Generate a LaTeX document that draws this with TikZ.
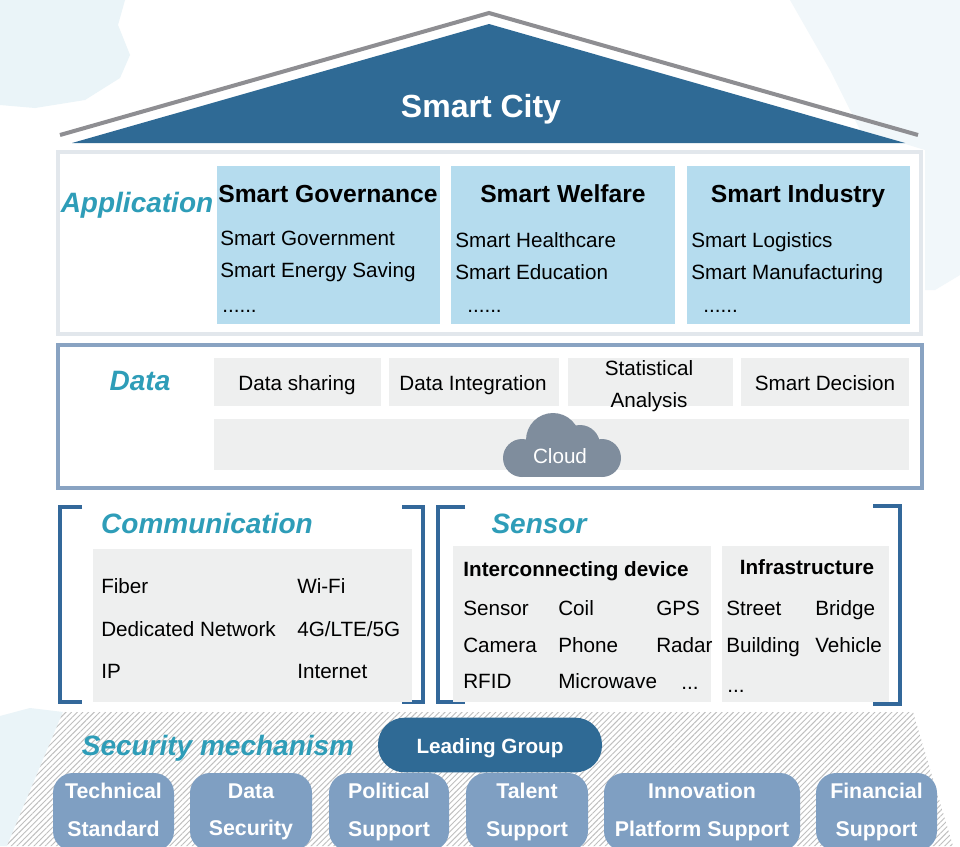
\documentclass[tikz,border=0pt]{standalone}
\usepackage{fontspec}
\setmainfont{Liberation Sans}
\usetikzlibrary{patterns.meta}

\definecolor{roofblue}{HTML}{2F6A95}
\definecolor{roofgrey}{HTML}{8E8E92}
\definecolor{labelcyan}{HTML}{2E9DB8}
\definecolor{appblue}{HTML}{B5DCEE}
\definecolor{framegrey}{HTML}{E2E7EC}
\definecolor{frameblue}{HTML}{89A3C2}
\definecolor{boxgrey}{HTML}{EEEFEF}
\definecolor{bracketblue}{HTML}{33689A}
\definecolor{pillblue}{HTML}{7F9FC2}
\definecolor{cloudgrey}{HTML}{7F8D9D}
\definecolor{skyblue}{HTML}{EAF4F8}
\definecolor{skypale}{HTML}{F1F7FA}

\newcommand{\twolines}[2]{\vphantom{Ty}#1\\\vphantom{Ty}#2}

\tikzset{
  layerlabel/.style={font=\fontsize{21}{24}\selectfont\bfseries\itshape,text=labelcyan,anchor=base,inner sep=0pt},
  headtext/.style={font=\fontsize{18.5}{22}\selectfont\bfseries,anchor=base,inner sep=0pt},
  subhead/.style={font=\fontsize{15.5}{18}\selectfont\bfseries,anchor=base,inner sep=0pt},
  itemtext/.style={font=\fontsize{15.5}{18}\selectfont,anchor=base west,inner sep=0pt},
  datatext/.style={font=\fontsize{15.5}{24}\selectfont,align=center,anchor=base,inner sep=0pt},
  pillbox/.style={fill=pillblue,rounded corners=15pt,text=white,font=\fontsize{16}{28}\selectfont\bfseries,align=center,inner sep=0pt,minimum height=58.5pt},
}

\begin{document}
\begin{tikzpicture}[x=0.75pt,y=-0.75pt]
\useasboundingbox (0,0) rectangle (960,846);
\clip (0,0) rectangle (960,846);

% sky
\fill[white] (0,0) rectangle (960,846);
\fill[skyblue] (0,0) -- (125,0) -- (118,25) -- (130,55) -- (120,78) -- (85,100) -- (35,108) -- (0,105) -- cycle;
\fill[skyblue] (0,716) -- (30,708) -- (63,712) -- (7,846) -- (0,846) -- cycle;
\fill[skypale] (790,0) -- (960,0) -- (960,275) -- (935,290) -- (925,290) -- (925,150) -- (860,130) -- (830,70) -- cycle;

% roof
\fill[roofblue] (72,143) -- (489,24) -- (905,143) -- cycle;
\draw[roofgrey,line width=3pt] (60,135) -- (489,13) -- (918,135);
\node (city) at (481,117) [text=white,anchor=base,inner sep=0pt,font=\fontsize{24}{28}\selectfont\bfseries] {Smart City};

% application
\draw[framegrey,line width=3pt,fill=white] (58,152) rectangle (921,334);
\node (application) at (137,212) [layerlabel] {Application};
\fill[appblue] (217,166) rectangle (440,324);
\fill[appblue] (451,166) rectangle (675,324);
\fill[appblue] (687,166) rectangle (910,324);
\node (governance) at (328,202) [headtext] {Smart Governance};
\node (welfare) at (563,202) [headtext] {Smart Welfare};
\node (industry) at (798,202) [headtext] {Smart Industry};
\node (gov1) at (220,245) [itemtext] {Smart Government};
\node (gov2) at (220,277) [itemtext] {Smart Energy Saving};
\node (gov3) at (222,312) [itemtext] {......};
\node (wel1) at (455,247) [itemtext] {Smart Healthcare};
\node (wel2) at (455,279) [itemtext] {Smart Education};
\node (wel3) at (467,312) [itemtext] {......};
\node (ind1) at (691,247) [itemtext] {Smart Logistics};
\node (ind2) at (691,279) [itemtext] {Smart Manufacturing};
\node (ind3) at (703,312) [itemtext] {......};

% data
\draw[frameblue,line width=3pt,fill=white] (58,345) rectangle (922,488);
\node (data) at (140,390) [layerlabel] {Data};
\fill[boxgrey] (214,358) rectangle (381,406);
\fill[boxgrey] (389,358) rectangle (559,406);
\fill[boxgrey] (568,358) rectangle (733,406);
\fill[boxgrey] (741,358) rectangle (909,406);
\node (sharing) at (297,390) [datatext] {Data sharing};
\node (integration) at (473,390) [datatext] {Data Integration};
\node (statistical) at (649,375) [datatext] {Statistical};
\node (analysis) at (649,407) [datatext] {Analysis};
\node (decision) at (825,390) [datatext] {Smart Decision};
\fill[boxgrey] (214,419) rectangle (909,470);
\fill[cloudgrey] (522,458) circle (19);
\fill[cloudgrey] (553,440) circle (27);
\fill[cloudgrey] (580,445) circle (20);
\fill[cloudgrey] (602,458) circle (19);
\fill[cloudgrey] (522,450) rectangle (602,477);
\node (cloud) at (560,463) [datatext,text=white] {Cloud};

% communication
\draw[bracketblue,line width=3pt] (82,507) -- (60,507) -- (60,702) -- (82,702);
\draw[bracketblue,line width=3pt] (402,507) -- (423,507) -- (423,702) -- (402,702);
\node (communication) at (207,533) [layerlabel] {Communication};
\fill[boxgrey] (93,549) rectangle (412,702);
\node (fiber) at (101,593) [itemtext] {Fiber};
\node (wifi) at (297,593) [itemtext] {Wi-Fi};
\node (dedicated) at (101,636) [itemtext] {Dedicated Network};
\node (lte) at (297,636) [itemtext] {4G/LTE/5G};
\node (ip) at (101,678) [itemtext] {IP};
\node (internet) at (297,678) [itemtext] {Internet};

% sensor
\draw[bracketblue,line width=3pt] (465,507) -- (438,507) -- (438,702) -- (465,702);
\draw[bracketblue,line width=3pt] (873,506) -- (900,506) -- (900,704) -- (873,704);
\node (sensorlabel) at (539,533) [layerlabel] {Sensor};
\fill[boxgrey] (453,546) rectangle (711,702);
\fill[boxgrey] (722,546) rectangle (889,702);
\node (device) at (576,576) [subhead] {Interconnecting device};
\node (infrastructure) at (807,574) [subhead] {Infrastructure};
\node (sensor) at (463,615) [itemtext] {Sensor};
\node (coil) at (558,615) [itemtext] {Coil};
\node (gps) at (656,615) [itemtext] {GPS};
\node (street) at (726,615) [itemtext] {Street};
\node (bridge) at (815,615) [itemtext] {Bridge};
\node (camera) at (463,652) [itemtext] {Camera};
\node (phone) at (558,652) [itemtext] {Phone};
\node (radar) at (656,652) [itemtext] {Radar};
\node (building) at (726,652) [itemtext] {Building};
\node (vehicle) at (815,652) [itemtext] {Vehicle};
\node (rfid) at (463,688) [itemtext] {RFID};
\node (microwave) at (558,688) [itemtext] {Microwave};
\node (dots1) at (681,689) [itemtext] {...};
\node (dots2) at (727,692) [itemtext] {...};

% security
\fill[white] (63,712) -- (913,712) -- (953,846) -- (7,846) -- cycle;
\fill[pattern={Lines[angle=45,distance=3pt,line width=0.7pt]},pattern color=black!25] (63,712) -- (913,712) -- (953,846) -- (7,846) -- cycle;
\node (security) at (218,755) [layerlabel] {Security mechanism};
\node (leading) at (490,745) [fill=roofblue,rounded corners=20pt,text=white,font=\fontsize{15.5}{18}\selectfont\bfseries,minimum width=168pt,minimum height=41pt,inner sep=0pt,text height=12pt,text depth=0pt] {Leading Group};
\node (technical) at (113.5,812) [pillbox,minimum width=90.75pt] {\twolines{Technical}{Standard}};
\node (datasec) at (251,812) [pillbox,minimum width=91.5pt] {\twolines{Data}{Security}};
\node (political) at (389,812) [pillbox,minimum width=90pt] {\twolines{Political}{Support}};
\node (talent) at (527,812) [pillbox,minimum width=91.5pt] {\twolines{Talent}{Support}};
\node (innovation) at (702,812) [pillbox,minimum width=147pt] {\twolines{Innovation}{Platform Support}};
\node (financial) at (876.5,812) [pillbox,minimum width=90.75pt] {\twolines{Financial}{Support}};

\end{tikzpicture}
\end{document}
